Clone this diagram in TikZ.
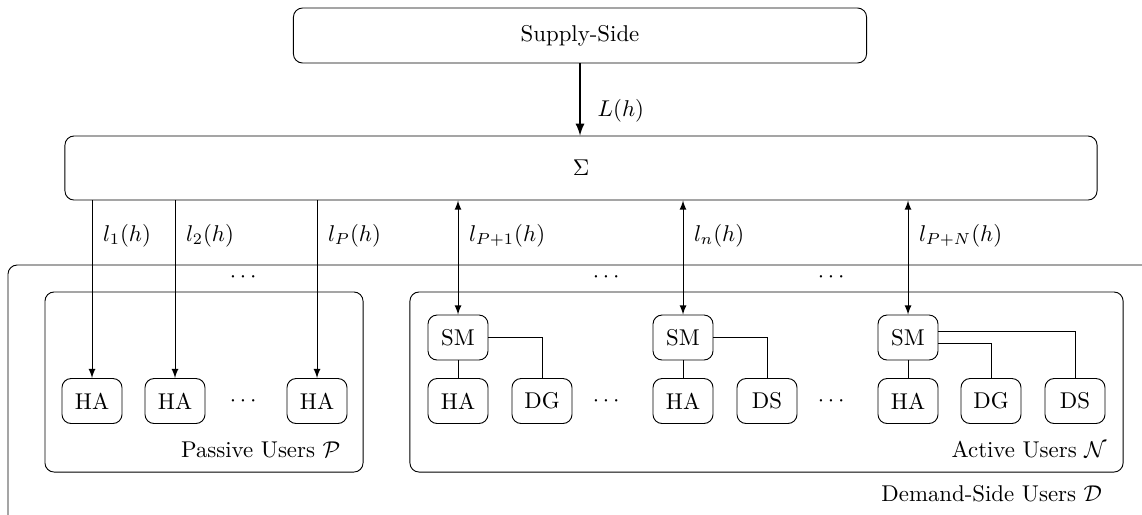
\documentclass[tikz,border=0pt]{standalone}
\usepackage{amsmath,amssymb}
\usetikzlibrary{arrows, calc}

\begin{document}
\begin{tikzpicture}[x=0.0154cm, y=-0.0154cm,
        unit/.style={draw, rounded corners, minimum width=0.924cm, minimum height=0.693cm, inner sep=2pt},
        bigbox/.style={draw, rounded corners}]
        \useasboundingbox (0,0) rectangle (1142,514);

        % supply side and aggregation
        \node[bigbox, minimum width=8.824cm, minimum height=0.847cm] (supply) at (580,35.5) {Supply-Side};
        \node[bigbox, minimum width=15.89cm, minimum height=0.986cm] (sigma) at (581,168) {$\Sigma$};
        \draw[-latex, thick] (supply.south) -- (supply.south |- sigma.north) node[pos=0.65, anchor=west, xshift=4pt] {$L(h)$};

        % demand side
        \draw[rounded corners] (1150,265) -- (8,265) -- (8,520);
        \node[anchor=base east] (demand) at (1110,501) {Demand-Side Users $\mathcal{D}$};

        \node[bigbox, minimum width=4.897cm, minimum height=2.772cm] (passive) at (204,382) {};
        \node[bigbox, minimum width=10.98cm, minimum height=2.772cm] (active) at (766.5,382) {};
        \node[anchor=base east] (plabel) at ($(passive.south east)+(-15,-15)$) {Passive Users $\mathcal{P}$};
        \node[anchor=base east] (alabel) at ($(active.south east)+(-9,-15)$) {Active Users $\mathcal{N}$};

        % passive users
        \node[unit] (ha1) at (92,401) {HA};
        \node[unit] (ha2) at (175,401) {HA};
        \node[unit] (ha3) at (317,401) {HA};
        \node (pdots) at (245,401) {$\cdots$};

        % active users
        \node[unit] (sma) at (458,337.5) {SM};
        \node[unit] (haa) at (458,401) {HA};
        \node[unit] (dga) at (542,401) {DG};
        \node (adots1) at (608,401) {$\cdots$};
        \node[unit] (smb) at (683,337.5) {SM};
        \node[unit] (hab) at (683,401) {HA};
        \node[unit] (dsb) at (767,401) {DS};
        \node (adots2) at (833,401) {$\cdots$};
        \node[unit] (smc) at (908,337.5) {SM};
        \node[unit] (hac) at (908,401) {HA};
        \node[unit] (dgc) at (991,401) {DG};
        \node[unit] (dsc) at (1075,401) {DS};

        \draw (sma) -- (haa);
        \draw (sma.east) -| (dga.north);
        \draw (smb) -- (hab);
        \draw (smb.east) -| (dsb.north);
        \draw (smc) -- (hac);
        \draw ([yshift=-2.6pt]smc.east) -| (dgc.north);
        \draw ([yshift=2.6pt]smc.east) -| (dsc.north);

        % load flows
        \draw[-latex] (ha1 |- sigma.south) -- (ha1.north);
        \draw[-latex] (ha2 |- sigma.south) -- (ha2.north);
        \draw[-latex] (ha3 |- sigma.south) -- (ha3.north);
        \draw[latex-latex] (sma |- sigma.south) -- (sma.north);
        \draw[latex-latex] (smb |- sigma.south) -- (smb.north);
        \draw[latex-latex] (smc |- sigma.south) -- (smc.north);

        \node[anchor=west] (l1) at ($(ha1 |- sigma.south)+(3,35)$) {$l_1(h)$};
        \node[anchor=west] (l2) at ($(ha2 |- sigma.south)+(3,35)$) {$l_2(h)$};
        \node[anchor=west] (lp) at ($(ha3 |- sigma.south)+(3,35)$) {$l_P(h)$};
        \node[anchor=west] (lp1) at ($(sma |- sigma.south)+(3,35)$) {$l_{P+1}(h)$};
        \node[anchor=west] (ln) at ($(smb |- sigma.south)+(3,35)$) {$l_n(h)$};
        \node[anchor=west] (lpn) at ($(smc |- sigma.south)+(3,35)$) {$l_{P+N}(h)$};

        \node (tdots1) at (245,277) {$\cdots$};
        \node (tdots2) at (608,277) {$\cdots$};
        \node (tdots3) at (833,277) {$\cdots$};
    \end{tikzpicture}
\end{document}
